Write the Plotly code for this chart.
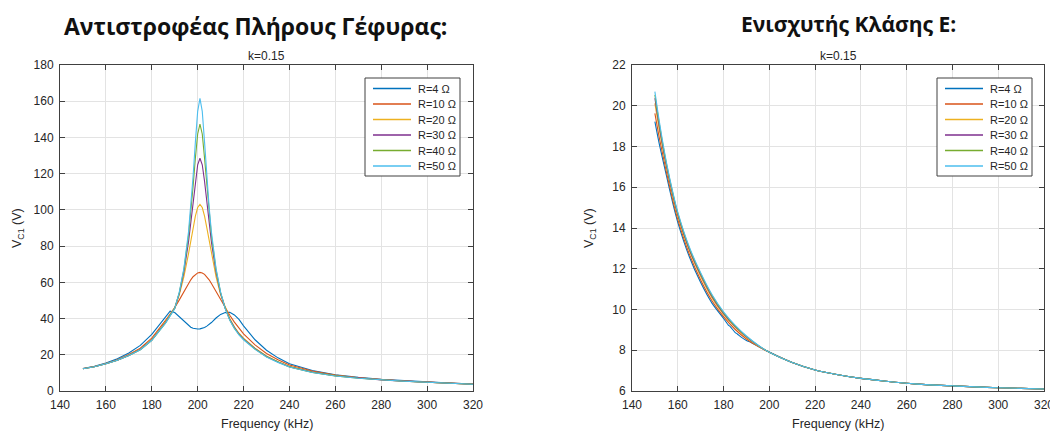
import plotly.graph_objects as go

# ---------------- data ----------------
freq_fb = [150, 155, 160, 165, 170, 175, 180, 184, 186, 188, 190, 192, 194, 196, 197, 198,
           199, 200, 201, 202, 203, 204, 205, 206, 208, 210, 212, 214, 216, 218, 220, 225,
           230, 235, 240, 250, 260, 270, 280, 290, 300, 310, 320]

fb_R4 = [12.4, 13.6, 15.4, 17.8, 21.0, 25.2, 31.3, 37.8, 41.5, 44.1, 43.3, 41.0, 38.3, 36.0,
         35.2, 34.6, 34.3, 34.2, 34.3, 34.6, 35.1, 35.8, 36.7, 37.8, 40.3, 42.3, 43.3, 43.5,
         42.0, 39.5, 36.0, 28.3, 22.5, 18.3, 15.0, 11.3, 9.0, 7.5, 6.45, 5.65, 5.0, 4.4, 3.85]
fb_R10 = [12.4, 13.5, 15.2, 17.3, 20.1, 23.6, 29.2, 35.5, 39.0, 42.5, 46.0, 50.3, 55.0, 59.4,
          61.4, 63.1, 64.4, 65.2, 65.5, 65.2, 64.4, 63.1, 61.4, 59.4, 55.0, 50.3, 46.0, 41.8,
          38.0, 34.5, 31.5, 25.5, 20.7, 17.2, 14.3, 11.0, 8.8, 7.35, 6.35, 5.55, 4.9, 4.3, 3.8]
fb_R20 = [12.3, 13.4, 15.0, 17.0, 19.7, 23.0, 28.3, 34.5, 38.2, 42.2, 46.0, 53.1, 63.1, 75.7,
          82.9, 90.1, 96.6, 101.3, 103.0, 101.3, 96.6, 90.1, 82.9, 75.7, 63.1, 53.1, 46.0, 40.0,
          35.4, 31.9, 29.2, 23.7, 19.3, 16.2, 13.6, 10.5, 8.5, 7.15, 6.2, 5.45, 4.85, 4.25, 3.75]
fb_R30 = [12.3, 13.4, 15.0, 17.0, 19.6, 22.9, 28.1, 34.2, 37.8, 41.8, 45.7, 53.9, 65.7, 82.2,
          92.6, 104.2, 115.8, 124.9, 128.5, 124.9, 115.8, 104.2, 92.6, 82.2, 65.7, 53.9, 45.7,
          39.5, 35.0, 31.5, 28.8, 23.4, 19.1, 16.0, 13.4, 10.4, 8.4, 7.1, 6.15, 5.45, 4.8, 4.2, 3.7]
fb_R40 = [12.3, 13.4, 15.0, 17.0, 19.6, 22.8, 28.0, 34.0, 37.6, 41.6, 45.6, 54.3, 67.0, 85.7,
          98.2, 112.9, 128.6, 141.9, 147.4, 141.9, 128.6, 112.9, 98.2, 85.7, 67.0, 54.3, 45.6,
          39.2, 34.7, 31.2, 28.5, 23.2, 18.9, 15.9, 13.3, 10.3, 8.35, 7.05, 6.15, 5.4, 4.8, 4.2, 3.7]
fb_R50 = [12.3, 13.4, 15.0, 17.0, 19.6, 22.8, 28.0, 34.0, 37.5, 41.5, 45.5, 54.6, 67.7, 87.7,
          101.5, 118.4, 137.4, 154.4, 161.6, 154.4, 137.4, 118.4, 101.5, 87.7, 67.7, 54.6, 45.5,
          39.0, 34.5, 31.0, 28.3, 23.0, 18.8, 15.8, 13.2, 10.2, 8.3, 7.0, 6.1, 5.4, 4.8, 4.2, 3.7]

freq_ce = [150, 152, 155, 158, 160, 165, 170, 175, 180, 185, 190, 195, 200, 210, 220, 230,
           240, 250, 260, 270, 280, 290, 300, 310, 320]
freq_ce_R4 = [150, 152, 155, 158, 160, 165, 170, 175, 180, 182, 183, 185, 186, 188, 190, 192,
              195, 200, 210, 220, 230, 240, 250, 260, 270, 280, 290, 300, 310, 320]

ce_R4 = [19.22, 18.08, 16.59, 15.13, 14.28, 12.6, 11.32, 10.3, 9.56, 9.25, 9.15, 8.88, 8.8, 8.62,
         8.48, 8.38, 8.2, 7.92, 7.4, 7.03, 6.8, 6.62, 6.49, 6.38, 6.3, 6.25, 6.2, 6.16, 6.13, 6.1]
ce_R10 = [19.63, 18.39, 16.77, 15.28, 14.42, 12.73, 11.45, 10.42, 9.65, 9.03, 8.55, 8.19, 7.9,
          7.4, 7.03, 6.8, 6.62, 6.49, 6.38, 6.3, 6.25, 6.2, 6.16, 6.13, 6.1]
ce_R20 = [20.12, 18.76, 17.0, 15.47, 14.59, 12.9, 11.62, 10.56, 9.76, 9.13, 8.62, 8.22, 7.9,
          7.4, 7.03, 6.8, 6.62, 6.49, 6.38, 6.3, 6.25, 6.2, 6.16, 6.13, 6.1]
ce_R30 = [20.37, 18.94, 17.1, 15.56, 14.67, 12.97, 11.7, 10.63, 9.81, 9.17, 8.66, 8.24, 7.9,
          7.4, 7.03, 6.8, 6.62, 6.49, 6.38, 6.3, 6.25, 6.2, 6.16, 6.13, 6.1]
ce_R40 = [20.53, 19.07, 17.18, 15.62, 14.73, 13.03, 11.75, 10.68, 9.85, 9.2, 8.68, 8.25, 7.9,
          7.4, 7.03, 6.8, 6.62, 6.49, 6.38, 6.3, 6.25, 6.2, 6.16, 6.13, 6.1]
ce_R50 = [20.69, 19.18, 17.25, 15.68, 14.78, 13.08, 11.8, 10.72, 9.88, 9.23, 8.7, 8.26, 7.9,
          7.4, 7.03, 6.8, 6.62, 6.49, 6.38, 6.3, 6.25, 6.2, 6.16, 6.13, 6.1]

series_names = ["R=4 Ω", "R=10 Ω", "R=20 Ω", "R=30 Ω", "R=40 Ω", "R=50 Ω"]
colors = ["#0072BD", "#D95319", "#EDB120", "#7E2F8E", "#77AC30", "#4DBEEE"]

title_left = "Αντιστροφέας Πλήρους Γέφυρας:"
title_right = "Ενισχυτής Κλάσης Ε:"
subtitle = "k=0.15"
xlabel = "Frequency (kHz)"
ylabel = "V<sub>C1</sub> (V)"

# ---------------- figure ----------------
# the page body has an 8 px default margin, so the figure is drawn 8 px in from the corner
OFF = 8
W, H = 1058 - OFF, 437 - OFF
fig = go.Figure()

fb_sets = [fb_R4, fb_R10, fb_R20, fb_R30, fb_R40, fb_R50]
ce_sets = [ce_R4, ce_R10, ce_R20, ce_R30, ce_R40, ce_R50]
ce_x = [freq_ce_R4] + [freq_ce] * 5

for name, col, ys in zip(series_names, colors, fb_sets):
    fig.add_trace(go.Scatter(x=freq_fb, y=ys, mode="lines", name=name,
                             line=dict(color=col, width=1.1),
                             xaxis="x", yaxis="y", showlegend=False))
for name, col, xs, ys in zip(series_names, colors, ce_x, ce_sets):
    fig.add_trace(go.Scatter(x=xs, y=ys, mode="lines", name=name,
                             line=dict(color=col, width=1.1, shape="spline", smoothing=0.6),
                             xaxis="x2", yaxis="y2", showlegend=False))

def px_x(p):
    return (p - OFF) / W

def px_y(p):
    return 1 - (p - OFF) / H

axis_col = "#404040"
grid_col = "#e3e3e3"
tick_font = dict(family="Liberation Sans, Arial, sans-serif", size=12, color="#262626")

common_axis = dict(showline=True, linecolor=axis_col, linewidth=1, mirror="ticks",
                   ticks="inside", ticklen=5, tickcolor=axis_col, tickwidth=1,
                   showgrid=True, gridcolor=grid_col, gridwidth=1, zeroline=False,
                   tickfont=tick_font, ticklabelstandoff=3, automargin=False)

y0, y1 = px_y(391), px_y(65)
fig.update_layout(
    xaxis=dict(domain=[px_x(60), px_x(473)], range=[140, 320], dtick=20, tick0=140,
               anchor="y", **common_axis),
    yaxis=dict(domain=[y0, y1], range=[0, 180], dtick=20, tick0=0, anchor="x", **common_axis),
    xaxis2=dict(domain=[px_x(632), px_x(1044)], range=[140, 320], dtick=20, tick0=140,
                anchor="y2", **common_axis),
    yaxis2=dict(domain=[y0, y1], range=[6, 22], dtick=2, tick0=6, anchor="x2", **common_axis),
)

# ---------------- legends (compact, MATLAB style) ----------------
shapes = []
ann = []
leg_font = dict(family="Liberation Sans, Arial, sans-serif", size=11, color="#262626")
row_y = [88.5, 104, 119.5, 135, 150.5, 166]
for box_l in (365, 937):
    box_r = box_l + 95
    shapes.append(dict(type="rect", xref="paper", yref="paper",
                       x0=px_x(box_l), x1=px_x(box_r), y0=px_y(176), y1=px_y(78),
                       line=dict(color=axis_col, width=1), fillcolor="white", layer="above"))
    for name, col, ry in zip(series_names, colors, row_y):
        shapes.append(dict(type="line", xref="paper", yref="paper",
                           x0=px_x(box_l + 8), x1=px_x(box_l + 46), y0=px_y(ry), y1=px_y(ry),
                           line=dict(color=col, width=1.4), layer="above"))
        ann.append(dict(text=name, x=px_x(box_l + 51), y=px_y(ry), xref="paper", yref="paper",
                        showarrow=False, font=leg_font, xanchor="left", yanchor="middle"))

big_font_l = dict(family="Open Sans, Noto Sans, sans-serif", size=23, color="#111111")
big_font_r = dict(family="Open Sans, Noto Sans, sans-serif", size=21, color="#111111")
ann.append(dict(text="<b>" + title_left + "</b>", x=px_x(255), y=px_y(8.5), xref="paper",
                yref="paper", showarrow=False, font=big_font_l, xanchor="center", yanchor="top",
                borderpad=0))
ann.append(dict(text="<b>" + title_right + "</b>", x=px_x(848), y=px_y(9), xref="paper",
                yref="paper", showarrow=False, font=big_font_r, xanchor="center", yanchor="top",
                borderpad=0))
sub_font = dict(family="Liberation Sans, Arial, sans-serif", size=12, color="#262626")
lab_font = dict(family="Liberation Sans, Arial, sans-serif", size=12.5, color="#262626")
for xl, xr in [(60, 473), (632, 1044)]:
    xc = (xl + xr) / 2
    ann.append(dict(text=subtitle, x=px_x(xc), y=px_y(56), xref="paper", yref="paper",
                    showarrow=False, font=sub_font, xanchor="center", yanchor="middle"))
    ann.append(dict(text=xlabel, x=px_x(xc), y=px_y(424), xref="paper", yref="paper",
                    showarrow=False, font=lab_font, xanchor="center", yanchor="middle"))
    ann.append(dict(text=ylabel, x=px_x(xl - 42), y=px_y(228), xref="paper", yref="paper",
                    showarrow=False, font=lab_font, textangle=-90,
                    xanchor="center", yanchor="middle"))

fig.update_layout(annotations=ann, shapes=shapes, width=W, height=H, autosize=False,
                  margin=dict(l=0, r=0, t=0, b=0), paper_bgcolor="white",
                  plot_bgcolor="white", showlegend=False)

fig.write_html("out.html")
